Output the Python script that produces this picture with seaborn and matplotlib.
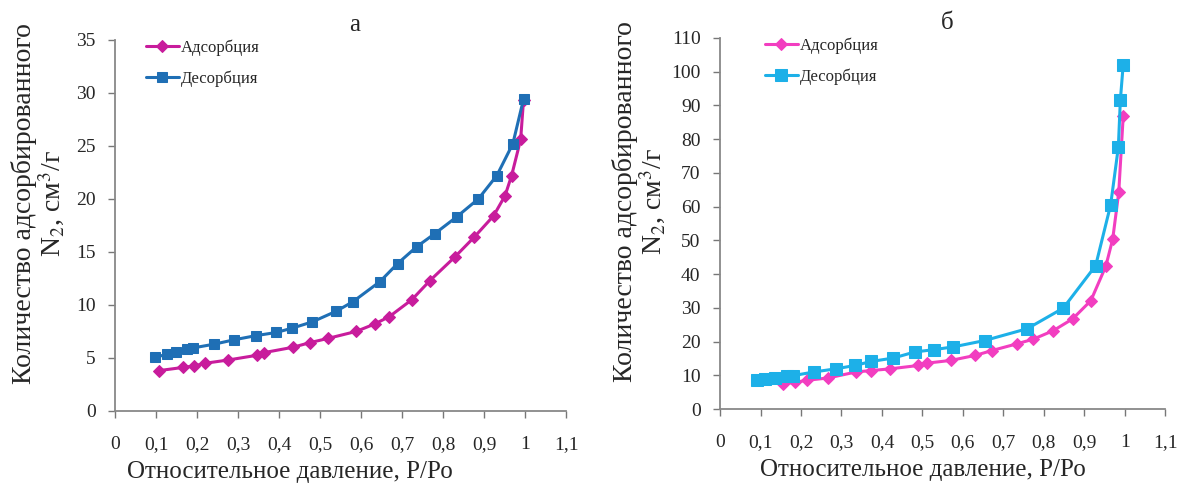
import matplotlib
matplotlib.use("Agg")
import matplotlib.pyplot as plt
import seaborn as sns

# -----------------------------
# DATA
# -----------------------------
# panel a
a_ads_x = [0.106, 0.165, 0.193, 0.220, 0.275, 0.346, 0.363, 0.433, 0.476, 0.520, 0.588,
           0.633, 0.669, 0.724, 0.768, 0.828, 0.876, 0.923, 0.951, 0.967, 0.989, 0.996]
a_ads_y = [3.8, 4.1, 4.25, 4.5, 4.8, 5.25, 5.5, 6.0, 6.45, 6.85, 7.5,
           8.2, 8.9, 10.5, 12.3, 14.5, 16.4, 18.4, 20.3, 22.2, 25.6, 29.3]
a_des_x = [0.098, 0.126, 0.149, 0.175, 0.191, 0.242, 0.289, 0.343, 0.393, 0.431, 0.481,
           0.539, 0.580, 0.646, 0.689, 0.736, 0.779, 0.833, 0.886, 0.931, 0.970, 0.996]
a_des_y = [5.05, 5.35, 5.55, 5.8, 5.95, 6.3, 6.7, 7.1, 7.4, 7.8, 8.4,
           9.4, 10.3, 12.2, 13.9, 15.5, 16.7, 18.3, 20.0, 22.2, 25.2, 29.4]

# panel б
b_ads_x = [0.156, 0.185, 0.214, 0.267, 0.337, 0.374, 0.420, 0.490, 0.512, 0.570, 0.631,
           0.671, 0.733, 0.774, 0.823, 0.871, 0.916, 0.953, 0.970, 0.985, 0.996]
b_ads_y = [7.4, 7.9, 8.5, 9.2, 11.0, 11.4, 11.9, 12.9, 13.6, 14.4, 15.9,
           17.3, 19.3, 20.7, 23.2, 26.7, 32.1, 42.3, 50.3, 64.2, 86.7]
b_des_x = [0.091, 0.111, 0.136, 0.165, 0.181, 0.233, 0.286, 0.333, 0.374, 0.428, 0.481,
           0.529, 0.576, 0.654, 0.759, 0.848, 0.928, 0.965, 0.984, 0.989, 0.996]
b_des_y = [8.5, 8.9, 9.2, 9.9, 9.9, 11.0, 11.9, 12.9, 14.1, 15.1, 16.9,
           17.6, 18.4, 20.3, 23.8, 29.9, 42.5, 60.5, 77.6, 91.6, 102.0]

x_ticks = [0, 0.1, 0.2, 0.3, 0.4, 0.5, 0.6, 0.7, 0.8, 0.9, 1.0, 1.1]
x_tick_labels = ['0', '0,1', '0,2', '0,3', '0,4', '0,5', '0,6', '0,7', '0,8', '0,9', '1', '1,1']
a_y_ticks = [0, 5, 10, 15, 20, 25, 30, 35]
b_y_ticks = [0, 10, 20, 30, 40, 50, 60, 70, 80, 90, 100, 110]

labels = ['Адсорбция', 'Десорбция']
titles = ['а', 'б']
xlabel = 'Относительное давление, Р/Ро'
ylabel = 'Количество адсорбированного\nN$_2$, см$^3$/г'

# -----------------------------
# STYLE
# -----------------------------
sns.set_theme(style="ticks")
plt.rcParams['font.family'] = ['Liberation Serif', 'DejaVu Serif']
plt.rcParams['mathtext.fontset'] = 'stix'

fig = plt.figure(figsize=(11.81, 4.91), dpi=100)
ax_a = fig.add_axes([0.0974, 0.163, 0.382, 0.756])
ax_b = fig.add_axes([0.6097, 0.167, 0.377, 0.756])

panels = [
    (ax_a, a_ads_x, a_ads_y, a_des_x, a_des_y, '#C81C9C', '#1F6FB5', a_y_ticks, 35,
     0.068, 0.388, -0.106, 0.53, 6, 7.5),
    (ax_b, b_ads_x, b_ads_y, b_des_x, b_des_y, '#F23EC0', '#1DB0E8', b_y_ticks, 110,
     0.100, 0.455, -0.117, 0.51, 6.5, 8.5),
]

for i, (ax, ax_x, ax_y, dx, dy, c_ads, c_des, yt, ymax, leg_x, xl_x, yl_x, t_x, ms_d, ms_s) in enumerate(panels):
    sns.lineplot(x=ax_x, y=ax_y, ax=ax, sort=False, color=c_ads, linewidth=2.2,
                 marker='D', markersize=ms_d, markeredgecolor=c_ads, label=labels[0])
    sns.lineplot(x=dx, y=dy, ax=ax, sort=False, color=c_des, linewidth=2.2,
                 marker='s', markersize=ms_s, markeredgecolor=c_des, label=labels[1])

    ax.set_xlim(0, 1.1)
    ax.set_ylim(0, ymax)
    ax.set_xticks(x_ticks)
    ax.set_xticklabels(x_tick_labels)
    ax.set_yticks(yt)
    ax.tick_params(axis='x', direction='out', length=5, width=1, pad=13,
                   labelsize=14, color='#777777')
    ax.tick_params(axis='y', direction='out', length=5, width=1, pad=9,
                   labelsize=14, color='#777777')
    sns.despine(ax=ax)
    for s in ['left', 'bottom']:
        ax.spines[s].set_color('#888888')
        ax.spines[s].set_linewidth(1.3)

    ax.set_xlabel(xlabel, fontsize=18)
    ax.xaxis.set_label_coords(xl_x, -0.135)
    ax.set_ylabel(ylabel, fontsize=20, linespacing=1.0)
    ax.yaxis.set_label_coords(yl_x, 0.56)
    ax.set_title(titles[i], fontsize=18, pad=6, x=t_x)

    ax.legend(loc='upper left', bbox_to_anchor=(leg_x, 1.0), frameon=False,
              fontsize=12, handlelength=2.0, handletextpad=0.1, borderpad=0,
              borderaxespad=0, labelspacing=0.85)

fig.savefig('out.png', dpi=100)
